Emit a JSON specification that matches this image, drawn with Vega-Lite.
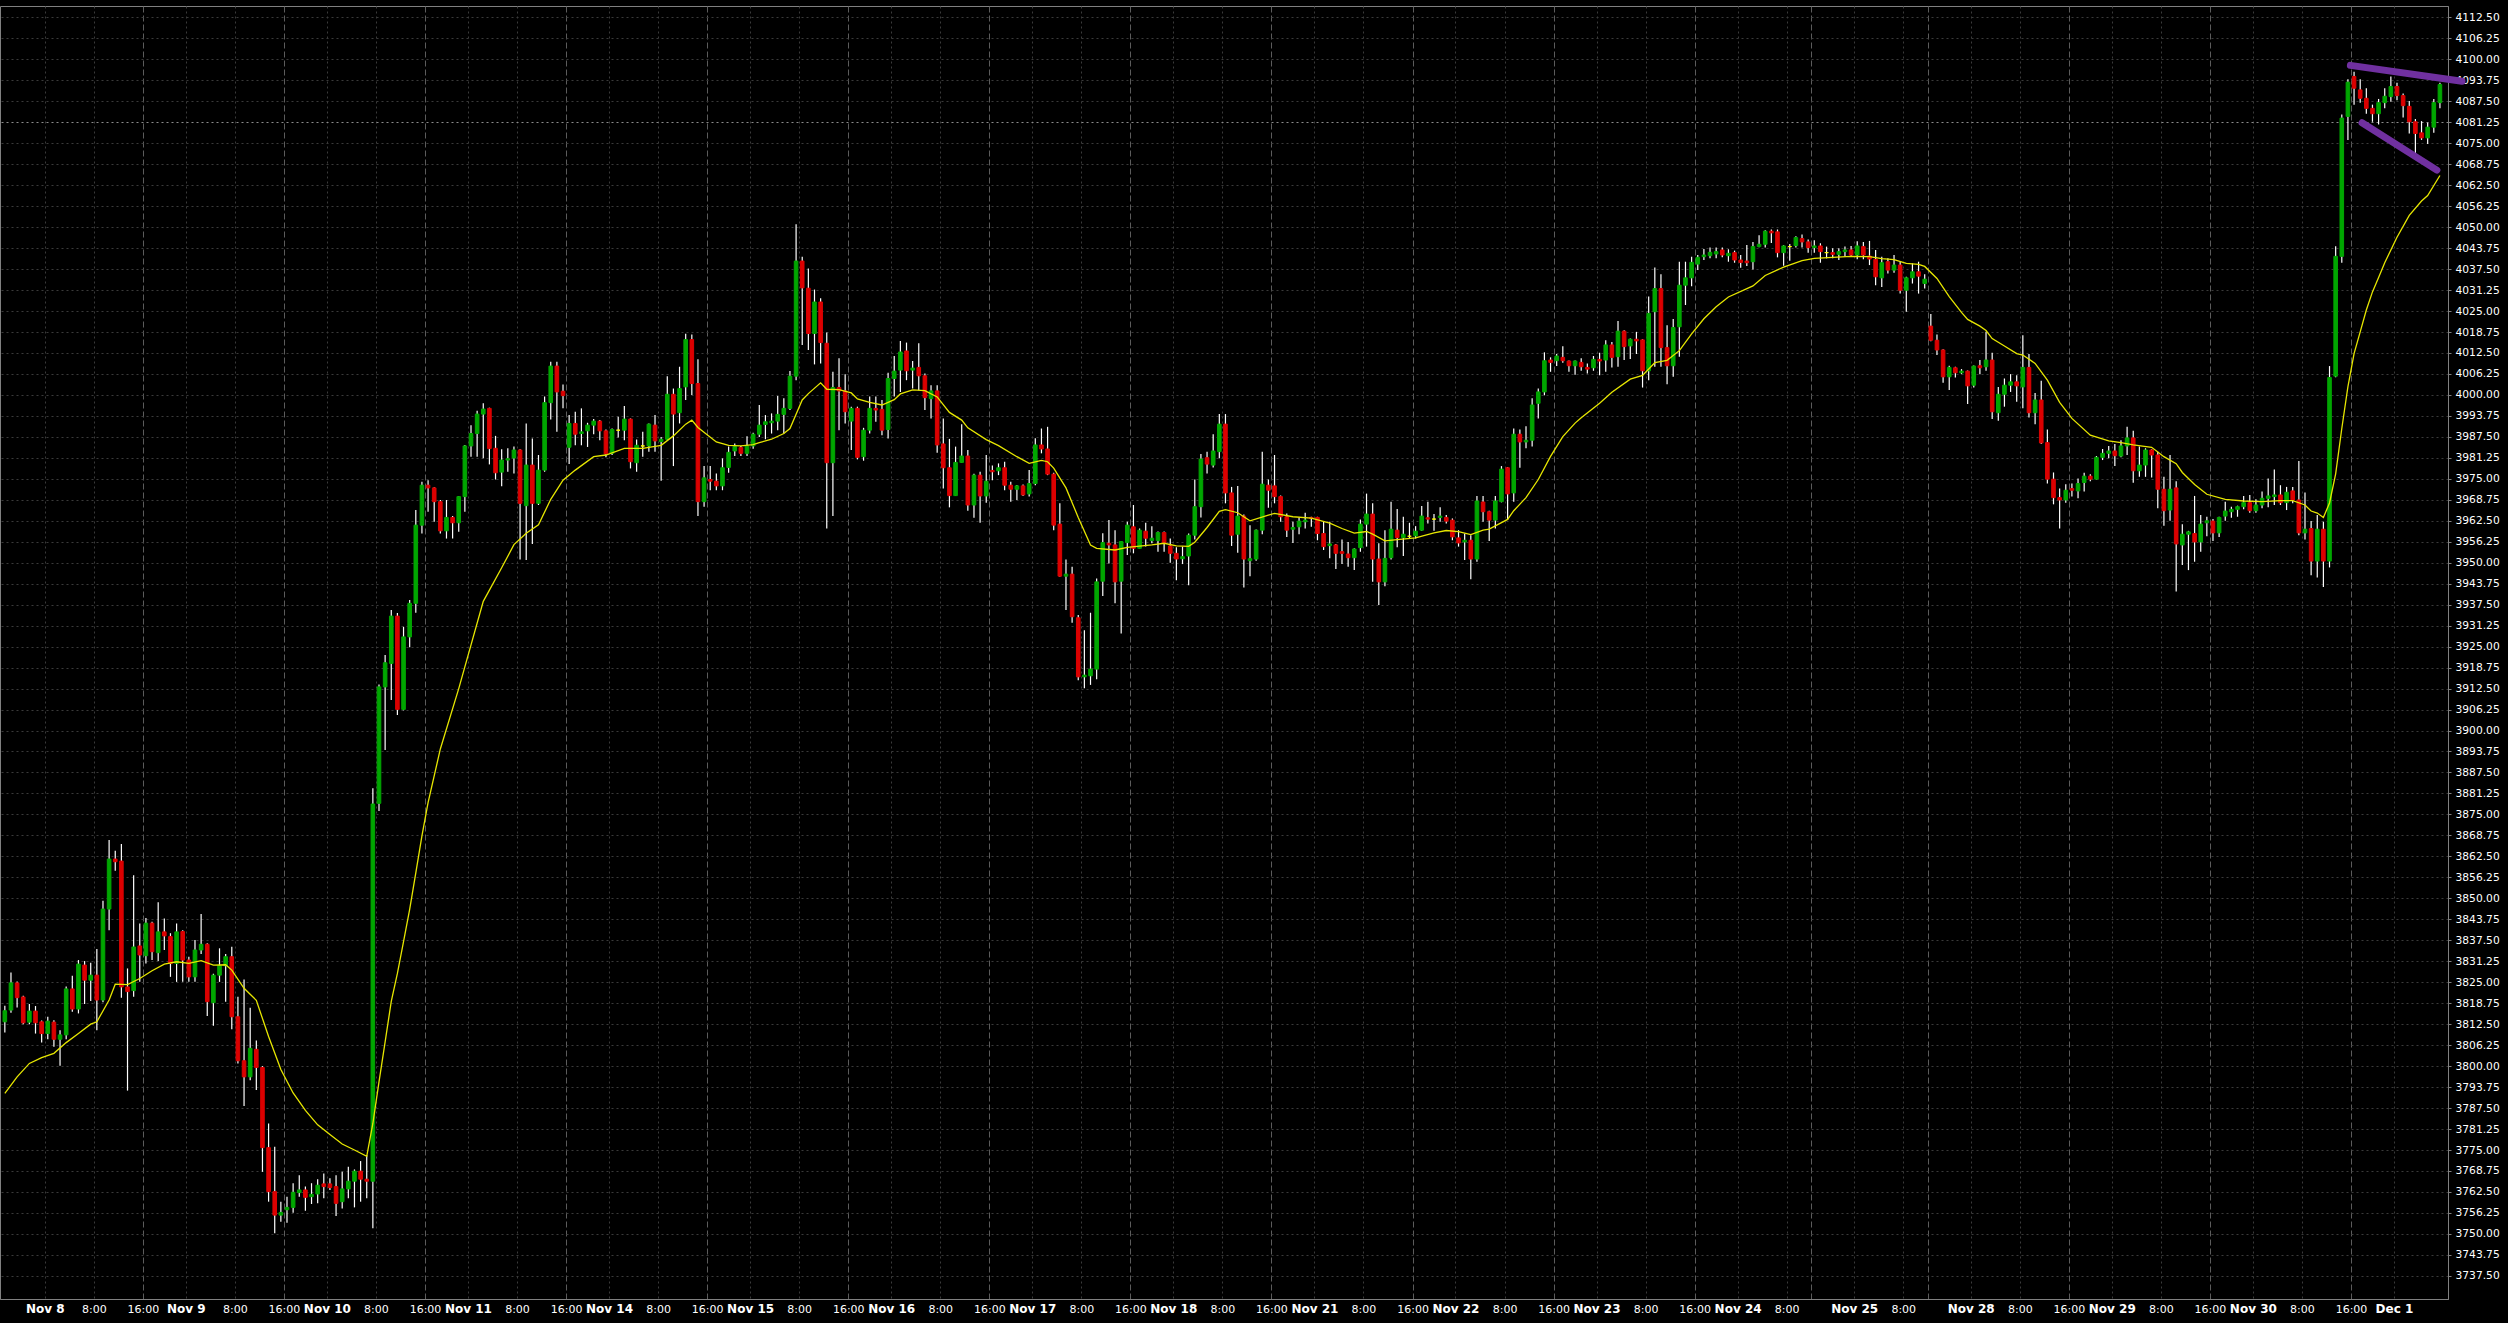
{
"$schema": "https://vega.github.io/schema/vega-lite/v6.json",
"width": 2448, "height": 1293,
"autosize": {"type": "none"},
"padding": {"left": 0, "top": 6, "right": 60, "bottom": 24},
"background": "#000000",
"config": {"view": {"stroke": "#808080", "strokeWidth": 1},
  "axisY": {
    "orient": "right", "title": null, "format": ".2f", "grid": true,
    "gridDash": [2, 3], "tickColor": "#808080", "tickSize": 3, "domainColor": "#808080",
    "labelColor": "#ffffff", "labelFont": "DejaVu Sans", "labelFontSize": 10.7,
    "labelPadding": 4, "labelOverlap": false, "labelFlush": false, "labelBound": false
  }
},
"data": {"values": [
{"i":0,"o":3813.2,"h":3818.0,"l":3810.0,"c":3816.5,"ma":3791.9},
{"i":1,"o":3816.7,"h":3827.9,"l":3815.9,"c":3824.8},
{"i":2,"o":3824.8,"h":3825.2,"l":3817.5,"c":3820.4,"ma":3796.8},
{"i":3,"o":3820.6,"h":3821.0,"l":3812.5,"c":3812.9},
{"i":4,"o":3813.1,"h":3818.5,"l":3812.5,"c":3816.4,"ma":3800.8},
{"i":5,"o":3816.4,"h":3817.9,"l":3809.7,"c":3812.9},
{"i":6,"o":3813.2,"h":3813.6,"l":3807.0,"c":3809.7,"ma":3802.5},
{"i":7,"o":3809.7,"h":3814.7,"l":3808.0,"c":3813.4},
{"i":8,"o":3813.1,"h":3813.7,"l":3805.8,"c":3808.0,"ma":3803.8},
{"i":9,"o":3808.0,"h":3810.7,"l":3800.1,"c":3809.3},
{"i":10,"o":3809.3,"h":3823.7,"l":3808.0,"c":3823.0,"ma":3807.0},
{"i":11,"o":3823.0,"h":3826.9,"l":3816.2,"c":3817.0},
{"i":12,"o":3817.0,"h":3831.6,"l":3815.7,"c":3830.4,"ma":3809.7},
{"i":13,"o":3830.1,"h":3831.3,"l":3818.5,"c":3825.6},
{"i":14,"o":3825.6,"h":3830.8,"l":3819.4,"c":3827.1,"ma":3812.5},
{"i":15,"o":3827.1,"h":3834.9,"l":3810.7,"c":3819.7,"ma":3813.2},
{"i":16,"o":3819.7,"h":3849.3,"l":3819.0,"c":3846.8},
{"i":17,"o":3846.8,"h":3867.4,"l":3840.5,"c":3861.7,"ma":3819.7},
{"i":18,"o":3861.7,"h":3864.2,"l":3858.2,"c":3860.9,"ma":3824.4},
{"i":19,"o":3861.1,"h":3866.2,"l":3820.4,"c":3823.6},
{"i":20,"o":3823.6,"h":3829.1,"l":3792.7,"c":3822.2,"ma":3824.3},
{"i":21,"o":3822.5,"h":3856.9,"l":3820.7,"c":3835.5},
{"i":22,"o":3835.8,"h":3842.5,"l":3825.1,"c":3833.1,"ma":3826.1},
{"i":23,"o":3832.9,"h":3844.1,"l":3830.6,"c":3842.6},
{"i":24,"o":3842.6,"h":3843.0,"l":3831.6,"c":3834.1,"ma":3828.4},
{"i":25,"o":3833.8,"h":3848.8,"l":3831.3,"c":3840.0},
{"i":26,"o":3840.0,"h":3844.0,"l":3834.6,"c":3838.8,"ma":3830.4},
{"i":27,"o":3838.6,"h":3839.6,"l":3826.6,"c":3830.6},
{"i":28,"o":3830.6,"h":3842.5,"l":3825.1,"c":3840.0,"ma":3831.1},
{"i":29,"o":3840.1,"h":3840.5,"l":3825.1,"c":3831.6},
{"i":30,"o":3831.6,"h":3832.6,"l":3825.1,"c":3826.6,"ma":3830.6},
{"i":31,"o":3826.6,"h":3837.6,"l":3825.1,"c":3834.6},
{"i":32,"o":3834.6,"h":3845.3,"l":3833.4,"c":3836.3,"ma":3831.4},
{"i":33,"o":3836.3,"h":3836.6,"l":3814.9,"c":3819.2},
{"i":34,"o":3818.9,"h":3827.5,"l":3812.0,"c":3827.1,"ma":3830.1},
{"i":35,"o":3827.1,"h":3835.1,"l":3825.1,"c":3829.9},
{"i":36,"o":3829.9,"h":3833.4,"l":3819.2,"c":3832.6,"ma":3830.2},
{"i":37,"o":3832.6,"h":3835.6,"l":3811.0,"c":3814.7,"ma":3828.6},
{"i":38,"o":3814.7,"h":3820.7,"l":3800.8,"c":3801.6},
{"i":39,"o":3801.6,"h":3825.8,"l":3788.1,"c":3796.8,"ma":3823.2},
{"i":40,"o":3796.8,"h":3817.4,"l":3795.8,"c":3805.3},
{"i":41,"o":3805.0,"h":3807.6,"l":3792.9,"c":3799.6,"ma":3819.6},
{"i":42,"o":3799.6,"h":3800.0,"l":3768.5,"c":3775.7},
{"i":43,"o":3775.7,"h":3782.9,"l":3759.6,"c":3762.6,"ma":3808.8},
{"i":44,"o":3762.6,"h":3776.0,"l":3750.2,"c":3755.6},
{"i":45,"o":3755.6,"h":3759.6,"l":3753.6,"c":3756.4,"ma":3799.0},
{"i":46,"o":3757.2,"h":3761.1,"l":3753.3,"c":3757.9},
{"i":47,"o":3757.9,"h":3765.1,"l":3756.3,"c":3762.4,"ma":3792.0},
{"i":48,"o":3762.3,"h":3767.5,"l":3761.1,"c":3763.1},
{"i":49,"o":3763.1,"h":3764.1,"l":3756.9,"c":3760.9,"ma":3786.8},
{"i":50,"o":3761.1,"h":3765.1,"l":3758.9,"c":3761.8},
{"i":51,"o":3761.9,"h":3766.3,"l":3759.1,"c":3764.5,"ma":3782.5},
{"i":52,"o":3764.9,"h":3768.0,"l":3760.6,"c":3764.1},
{"i":53,"o":3764.9,"h":3766.6,"l":3763.1,"c":3763.8,"ma":3779.6},
{"i":54,"o":3764.1,"h":3767.5,"l":3755.3,"c":3759.1},
{"i":55,"o":3759.6,"h":3768.5,"l":3757.6,"c":3763.4,"ma":3776.8},
{"i":56,"o":3763.4,"h":3770.0,"l":3760.6,"c":3765.7},
{"i":57,"o":3765.7,"h":3769.2,"l":3757.9,"c":3768.7,"ma":3775.0},
{"i":58,"o":3768.7,"h":3771.7,"l":3759.6,"c":3766.3},
{"i":59,"o":3766.3,"h":3773.5,"l":3760.6,"c":3765.7,"ma":3773.1},
{"i":60,"o":3765.7,"h":3882.8,"l":3751.7,"c":3878.1,"ma":3782.9},
{"i":61,"o":3878.3,"h":3913.7,"l":3876.0,"c":3913.0,"ma":3795.3},
{"i":62,"o":3913.0,"h":3922.5,"l":3894.2,"c":3920.2,"ma":3807.2},
{"i":63,"o":3920.0,"h":3935.9,"l":3909.1,"c":3934.1,"ma":3819.3},
{"i":64,"o":3934.1,"h":3935.0,"l":3904.6,"c":3906.3,"ma":3827.6},
{"i":65,"o":3906.3,"h":3930.9,"l":3906.0,"c":3927.9,"ma":3837.1},
{"i":66,"o":3927.9,"h":3938.9,"l":3924.8,"c":3937.9,"ma":3846.7},
{"i":67,"o":3937.9,"h":3965.7,"l":3935.1,"c":3961.2,"ma":3857.6},
{"i":68,"o":3961.2,"h":3974.1,"l":3958.7,"c":3973.1,"ma":3868.6},
{"i":69,"o":3973.1,"h":3974.6,"l":3965.2,"c":3972.3,"ma":3878.5},
{"i":70,"o":3972.3,"h":3972.5,"l":3962.2,"c":3968.2},
{"i":71,"o":3968.2,"h":3968.7,"l":3958.7,"c":3959.5,"ma":3894.5},
{"i":72,"o":3959.5,"h":3968.7,"l":3957.2,"c":3963.5},
{"i":73,"o":3963.5,"h":3963.9,"l":3957.2,"c":3961.9},
{"i":74,"o":3961.9,"h":3969.9,"l":3959.2,"c":3969.7,"ma":3912.5},
{"i":75,"o":3969.7,"h":3985.1,"l":3965.2,"c":3984.8},
{"i":76,"o":3984.8,"h":3991.0,"l":3981.6,"c":3988.5},
{"i":77,"o":3988.5,"h":3995.3,"l":3981.6,"c":3994.3},
{"i":78,"o":3994.3,"h":3997.5,"l":3981.1,"c":3995.8,"ma":3938.5},
{"i":79,"o":3996.0,"h":3996.2,"l":3979.3,"c":3984.0},
{"i":80,"o":3984.1,"h":3987.8,"l":3974.8,"c":3976.8},
{"i":81,"o":3977.0,"h":3983.8,"l":3972.8,"c":3980.6,"ma":3948.5},
{"i":82,"o":3980.6,"h":3984.1,"l":3977.1,"c":3981.0},
{"i":83,"o":3981.2,"h":3984.6,"l":3976.6,"c":3983.6,"ma":3955.4},
{"i":84,"o":3983.6,"h":3983.8,"l":3951.0,"c":3967.7},
{"i":85,"o":3967.0,"h":3991.5,"l":3950.8,"c":3979.1,"ma":3958.8},
{"i":86,"o":3979.1,"h":3987.0,"l":3955.6,"c":3967.7},
{"i":87,"o":3967.7,"h":3982.1,"l":3967.2,"c":3977.6,"ma":3961.3},
{"i":88,"o":3977.6,"h":3999.5,"l":3977.1,"c":3997.7},
{"i":89,"o":3997.7,"h":4009.9,"l":3992.7,"c":4008.6,"ma":3968.9},
{"i":90,"o":4008.6,"h":4009.9,"l":3989.0,"c":4000.9},
{"i":91,"o":4001.1,"h":4003.1,"l":3996.0,"c":3999.8,"ma":3974.6},
{"i":92,"o":3984.4,"h":3994.0,"l":3979.4,"c":3991.5},
{"i":93,"o":3991.5,"h":3995.0,"l":3985.0,"c":3988.3,"ma":3977.6},
{"i":94,"o":3988.5,"h":3996.0,"l":3985.0,"c":3989.0},
{"i":95,"o":3989.3,"h":3991.7,"l":3984.5,"c":3991.0},
{"i":96,"o":3991.0,"h":3992.8,"l":3988.3,"c":3992.2,"ma":3981.6},
{"i":97,"o":3992.2,"h":3992.5,"l":3986.5,"c":3989.3},
{"i":98,"o":3989.3,"h":3989.7,"l":3981.4,"c":3982.4,"ma":3982.1},
{"i":99,"o":3982.6,"h":3990.0,"l":3982.1,"c":3989.7},
{"i":100,"o":3989.5,"h":3993.5,"l":3987.3,"c":3989.5},
{"i":101,"o":3989.5,"h":3996.7,"l":3986.5,"c":3992.8,"ma":3984.1},
{"i":102,"o":3992.8,"h":3993.0,"l":3978.1,"c":3980.1},
{"i":103,"o":3979.8,"h":3986.7,"l":3977.1,"c":3985.0},
{"i":104,"o":3984.8,"h":3989.0,"l":3981.6,"c":3984.8,"ma":3984.1},
{"i":105,"o":3984.8,"h":3991.5,"l":3983.1,"c":3991.3},
{"i":106,"o":3991.0,"h":3994.0,"l":3983.1,"c":3986.3},
{"i":107,"o":3986.1,"h":3987.5,"l":3974.4,"c":3986.8,"ma":3985.0},
{"i":108,"o":3986.8,"h":4005.6,"l":3986.5,"c":4000.2},
{"i":109,"o":4000.2,"h":4001.9,"l":3978.8,"c":3994.3,"ma":3987.8},
{"i":110,"o":3994.7,"h":4008.4,"l":3991.5,"c":4001.9},
{"i":111,"o":4002.4,"h":4018.2,"l":3998.5,"c":4016.5,"ma":3991.3},
{"i":112,"o":4016.5,"h":4018.0,"l":4000.0,"c":4003.4,"ma":3992.5},
{"i":113,"o":4003.4,"h":4010.6,"l":3963.9,"c":3968.2,"ma":3990.3},
{"i":114,"o":3968.2,"h":3978.8,"l":3966.7,"c":3975.3},
{"i":115,"o":3974.8,"h":3978.8,"l":3971.6,"c":3974.3},
{"i":116,"o":3974.3,"h":3976.6,"l":3971.6,"c":3972.9,"ma":3986.0},
{"i":117,"o":3972.9,"h":3981.1,"l":3971.6,"c":3978.3},
{"i":118,"o":3978.4,"h":3984.6,"l":3976.8,"c":3982.9,"ma":3985.0},
{"i":119,"o":3983.3,"h":3985.5,"l":3981.8,"c":3984.6},
{"i":120,"o":3984.3,"h":3984.8,"l":3981.8,"c":3982.6,"ma":3984.8},
{"i":121,"o":3982.6,"h":3987.7,"l":3981.8,"c":3984.8},
{"i":122,"o":3984.8,"h":3988.7,"l":3984.0,"c":3988.3,"ma":3985.2},
{"i":123,"o":3988.3,"h":3997.0,"l":3987.5,"c":3991.0,"ma":3985.8},
{"i":124,"o":3991.2,"h":3994.0,"l":3986.8,"c":3992.0},
{"i":125,"o":3991.7,"h":3994.5,"l":3988.5,"c":3992.2,"ma":3986.8},
{"i":126,"o":3992.2,"h":3999.7,"l":3989.5,"c":3994.2},
{"i":127,"o":3994.2,"h":3999.0,"l":3988.5,"c":3996.0,"ma":3988.5},
{"i":128,"o":3996.0,"h":4007.1,"l":3995.5,"c":4005.6,"ma":3990.0},
{"i":129,"o":4005.6,"h":4050.9,"l":4004.4,"c":4039.9},
{"i":130,"o":4039.9,"h":4041.2,"l":4014.9,"c":4031.9,"ma":3998.5},
{"i":131,"o":4031.8,"h":4037.7,"l":4013.4,"c":4018.3,"ma":4000.4},
{"i":132,"o":4018.3,"h":4031.4,"l":4009.1,"c":4027.7},
{"i":133,"o":4027.7,"h":4028.8,"l":4009.4,"c":4015.6,"ma":4003.6},
{"i":134,"o":4015.4,"h":4018.6,"l":3960.2,"c":3979.8,"ma":4001.7},
{"i":135,"o":3979.8,"h":4006.9,"l":3963.9,"c":4002.2},
{"i":136,"o":4002.2,"h":4010.9,"l":3989.5,"c":4001.2,"ma":4001.6},
{"i":137,"o":4001.2,"h":4006.2,"l":3991.5,"c":3995.0},
{"i":138,"o":3992.2,"h":3996.5,"l":3983.6,"c":3996.0,"ma":4000.6},
{"i":139,"o":3996.0,"h":3996.5,"l":3980.8,"c":3981.4,"ma":3998.8},
{"i":140,"o":3981.6,"h":3990.2,"l":3980.4,"c":3989.5},
{"i":141,"o":3989.5,"h":3999.5,"l":3988.5,"c":3996.0,"ma":3997.8},
{"i":142,"o":3996.0,"h":3999.5,"l":3992.0,"c":3995.5},
{"i":143,"o":3995.7,"h":3998.5,"l":3988.0,"c":3989.5,"ma":3997.0},
{"i":144,"o":3989.7,"h":4006.6,"l":3987.0,"c":4004.9},
{"i":145,"o":4004.9,"h":4011.6,"l":3999.5,"c":4007.1,"ma":3998.6},
{"i":146,"o":4007.4,"h":4016.1,"l":4000.9,"c":4012.8,"ma":4000.3},
{"i":147,"o":4013.1,"h":4015.6,"l":4004.4,"c":4007.2},
{"i":148,"o":4007.4,"h":4010.1,"l":4001.9,"c":4008.0,"ma":4001.5},
{"i":149,"o":4008.2,"h":4015.4,"l":4001.4,"c":4005.7},
{"i":150,"o":4005.7,"h":4006.4,"l":3995.5,"c":3999.2,"ma":4001.3},
{"i":151,"o":3998.9,"h":4002.9,"l":3993.0,"c":4001.2},
{"i":152,"o":4001.2,"h":4002.9,"l":3982.8,"c":3985.1,"ma":3999.4},
{"i":153,"o":3985.4,"h":3993.0,"l":3972.1,"c":3978.3},
{"i":154,"o":3978.3,"h":3986.9,"l":3966.5,"c":3970.0,"ma":3994.8},
{"i":155,"o":3970.0,"h":3984.6,"l":3969.9,"c":3979.9},
{"i":156,"o":3979.9,"h":3991.3,"l":3979.8,"c":3981.8,"ma":3992.5},
{"i":157,"o":3981.8,"h":3983.6,"l":3965.5,"c":3967.2,"ma":3990.2},
{"i":158,"o":3967.2,"h":3976.5,"l":3963.4,"c":3976.1},
{"i":159,"o":3976.1,"h":3977.1,"l":3961.9,"c":3969.9},
{"i":160,"o":3969.9,"h":3982.1,"l":3967.9,"c":3974.3,"ma":3986.7},
{"i":161,"o":3977.5,"h":3979.0,"l":3974.6,"c":3977.1},
{"i":162,"o":3977.4,"h":3979.6,"l":3976.1,"c":3978.3,"ma":3984.9},
{"i":163,"o":3978.3,"h":3980.1,"l":3971.6,"c":3973.1},
{"i":164,"o":3973.1,"h":3974.1,"l":3968.2,"c":3971.9},
{"i":165,"o":3971.9,"h":3973.2,"l":3968.7,"c":3972.9,"ma":3981.6},
{"i":166,"o":3972.9,"h":3973.3,"l":3969.9,"c":3970.2},
{"i":167,"o":3970.5,"h":3977.6,"l":3969.7,"c":3973.6,"ma":3979.6},
{"i":168,"o":3973.6,"h":3987.1,"l":3973.1,"c":3985.1},
{"i":169,"o":3985.1,"h":3990.0,"l":3982.6,"c":3983.9,"ma":3980.5},
{"i":170,"o":3983.9,"h":3990.5,"l":3976.1,"c":3976.4,"ma":3980.1},
{"i":171,"o":3976.4,"h":3976.8,"l":3959.7,"c":3961.2,"ma":3978.2},
{"i":172,"o":3961.5,"h":3967.7,"l":3945.8,"c":3946.0},
{"i":173,"o":3946.0,"h":3951.0,"l":3935.9,"c":3946.6,"ma":3972.3},
{"i":174,"o":3946.6,"h":3948.8,"l":3932.1,"c":3933.9},
{"i":175,"o":3933.6,"h":3934.4,"l":3915.0,"c":3916.0,"ma":3963.5},
{"i":176,"o":3916.0,"h":3929.9,"l":3912.6,"c":3916.5},
{"i":177,"o":3916.3,"h":3935.1,"l":3913.6,"c":3918.3,"ma":3955.3},
{"i":178,"o":3918.3,"h":3945.3,"l":3915.3,"c":3944.3,"ma":3954.3},
{"i":179,"o":3944.5,"h":3958.8,"l":3940.1,"c":3956.0},
{"i":180,"o":3955.8,"h":3962.7,"l":3949.8,"c":3955.3},
{"i":181,"o":3955.3,"h":3959.7,"l":3937.9,"c":3944.3,"ma":3953.8},
{"i":182,"o":3944.5,"h":3956.5,"l":3928.9,"c":3956.3},
{"i":183,"o":3956.0,"h":3962.2,"l":3952.3,"c":3961.2,"ma":3954.6},
{"i":184,"o":3960.7,"h":3967.2,"l":3952.8,"c":3954.3},
{"i":185,"o":3954.3,"h":3960.2,"l":3954.3,"c":3959.7},
{"i":186,"o":3959.4,"h":3961.9,"l":3954.8,"c":3957.3},
{"i":187,"o":3956.6,"h":3960.9,"l":3955.8,"c":3957.3,"ma":3955.3},
{"i":188,"o":3956.6,"h":3959.3,"l":3953.3,"c":3959.0},
{"i":189,"o":3959.0,"h":3959.3,"l":3953.3,"c":3955.8,"ma":3955.8},
{"i":190,"o":3955.0,"h":3957.2,"l":3950.0,"c":3952.8},
{"i":191,"o":3952.8,"h":3954.6,"l":3944.8,"c":3951.1,"ma":3955.0},
{"i":192,"o":3951.2,"h":3954.8,"l":3949.6,"c":3951.8},
{"i":193,"o":3952.0,"h":3958.7,"l":3943.3,"c":3958.2,"ma":3954.9},
{"i":194,"o":3958.2,"h":3974.8,"l":3956.9,"c":3966.7,"ma":3956.1},
{"i":195,"o":3966.7,"h":3982.4,"l":3963.5,"c":3980.9},
{"i":196,"o":3981.3,"h":3983.1,"l":3976.6,"c":3979.4,"ma":3960.5},
{"i":197,"o":3979.1,"h":3988.3,"l":3978.4,"c":3983.3},
{"i":198,"o":3983.1,"h":3994.3,"l":3981.1,"c":3991.3,"ma":3965.3},
{"i":199,"o":3991.3,"h":3994.3,"l":3967.7,"c":3970.8,"ma":3965.8},
{"i":200,"o":3970.8,"h":3972.6,"l":3955.0,"c":3958.2},
{"i":201,"o":3958.5,"h":3972.9,"l":3953.0,"c":3963.9,"ma":3964.9},
{"i":202,"o":3963.9,"h":3964.4,"l":3942.6,"c":3951.1},
{"i":203,"o":3950.6,"h":3961.2,"l":3946.0,"c":3951.2,"ma":3962.5},
{"i":204,"o":3951.1,"h":3959.9,"l":3950.6,"c":3959.7},
{"i":205,"o":3959.7,"h":3983.1,"l":3958.5,"c":3973.4},
{"i":206,"o":3973.1,"h":3974.8,"l":3966.4,"c":3971.6,"ma":3964.2},
{"i":207,"o":3972.9,"h":3982.1,"l":3967.7,"c":3969.7,"ma":3964.7},
{"i":208,"o":3969.7,"h":3970.0,"l":3962.2,"c":3963.7},
{"i":209,"o":3963.7,"h":3964.7,"l":3957.7,"c":3959.7},
{"i":210,"o":3960.0,"h":3962.2,"l":3955.9,"c":3960.5,"ma":3963.7},
{"i":211,"o":3960.7,"h":3963.5,"l":3958.5,"c":3962.4},
{"i":212,"o":3962.2,"h":3964.9,"l":3960.2,"c":3962.7},
{"i":213,"o":3963.5,"h":3963.7,"l":3960.7,"c":3963.2,"ma":3963.3},
{"i":214,"o":3963.5,"h":3963.7,"l":3956.7,"c":3958.7},
{"i":215,"o":3958.7,"h":3962.2,"l":3953.8,"c":3954.8},
{"i":216,"o":3955.1,"h":3962.2,"l":3951.3,"c":3955.6,"ma":3961.8},
{"i":217,"o":3955.3,"h":3955.6,"l":3948.1,"c":3952.8},
{"i":218,"o":3953.3,"h":3956.9,"l":3949.6,"c":3952.8,"ma":3960.2},
{"i":219,"o":3952.6,"h":3956.2,"l":3948.8,"c":3951.5},
{"i":220,"o":3951.5,"h":3954.3,"l":3947.8,"c":3954.1,"ma":3958.8},
{"i":221,"o":3954.5,"h":3962.9,"l":3953.3,"c":3961.5},
{"i":222,"o":3961.5,"h":3970.6,"l":3954.8,"c":3964.5,"ma":3959.3},
{"i":223,"o":3964.5,"h":3967.7,"l":3944.3,"c":3951.1,"ma":3958.5},
{"i":224,"o":3951.1,"h":3955.8,"l":3937.4,"c":3944.3},
{"i":225,"o":3944.3,"h":3959.7,"l":3943.0,"c":3951.3,"ma":3956.5},
{"i":226,"o":3951.5,"h":3968.2,"l":3951.0,"c":3960.0},
{"i":227,"o":3959.7,"h":3966.0,"l":3954.6,"c":3957.5,"ma":3956.9},
{"i":228,"o":3957.5,"h":3963.7,"l":3952.0,"c":3958.5},
{"i":229,"o":3957.9,"h":3961.9,"l":3957.2,"c":3957.9},
{"i":230,"o":3958.0,"h":3960.9,"l":3957.2,"c":3959.4,"ma":3957.4},
{"i":231,"o":3959.7,"h":3966.9,"l":3959.5,"c":3963.9},
{"i":232,"o":3963.4,"h":3968.2,"l":3961.7,"c":3963.0},
{"i":233,"o":3963.0,"h":3964.5,"l":3959.5,"c":3963.0,"ma":3958.9},
{"i":234,"o":3963.5,"h":3966.5,"l":3962.2,"c":3963.9},
{"i":235,"o":3963.5,"h":3964.2,"l":3961.7,"c":3962.4,"ma":3959.6},
{"i":236,"o":3962.7,"h":3963.2,"l":3956.7,"c":3957.7},
{"i":237,"o":3957.4,"h":3959.7,"l":3954.8,"c":3955.9,"ma":3959.3},
{"i":238,"o":3956.2,"h":3958.7,"l":3950.8,"c":3956.7},
{"i":239,"o":3956.7,"h":3958.2,"l":3945.1,"c":3951.1,"ma":3958.4},
{"i":240,"o":3951.1,"h":3969.9,"l":3950.3,"c":3968.4},
{"i":241,"o":3968.1,"h":3969.9,"l":3962.2,"c":3965.2,"ma":3959.7},
{"i":242,"o":3965.2,"h":3965.5,"l":3956.5,"c":3962.7,"ma":3960.0},
{"i":243,"o":3962.7,"h":3969.9,"l":3960.2,"c":3968.4},
{"i":244,"o":3968.2,"h":3978.8,"l":3968.0,"c":3977.9},
{"i":245,"o":3978.3,"h":3978.5,"l":3962.7,"c":3970.5,"ma":3962.9},
{"i":246,"o":3970.8,"h":3990.0,"l":3968.2,"c":3988.3,"ma":3965.5},
{"i":247,"o":3988.3,"h":3989.7,"l":3978.3,"c":3986.0},
{"i":248,"o":3986.0,"h":3990.7,"l":3984.1,"c":3986.5,"ma":3969.4},
{"i":249,"o":3986.5,"h":3999.0,"l":3984.6,"c":3997.0},
{"i":250,"o":3997.5,"h":4001.9,"l":3993.0,"c":4000.9,"ma":3974.8},
{"i":251,"o":4000.9,"h":4012.7,"l":3999.9,"c":4010.2},
{"i":252,"o":4010.4,"h":4011.2,"l":4006.9,"c":4009.7,"ma":3981.7},
{"i":253,"o":4010.2,"h":4012.2,"l":4008.6,"c":4011.6},
{"i":254,"o":4011.2,"h":4014.5,"l":4009.6,"c":4010.2,"ma":3987.6},
{"i":255,"o":4010.1,"h":4010.3,"l":4006.9,"c":4008.7,"ma":3989.6},
{"i":256,"o":4008.7,"h":4010.3,"l":4006.0,"c":4010.1,"ma":3991.6},
{"i":257,"o":4009.7,"h":4010.9,"l":4007.2,"c":4008.4,"ma":3993.2},
{"i":258,"o":4008.2,"h":4009.4,"l":4006.4,"c":4007.7},
{"i":259,"o":4008.1,"h":4011.6,"l":4007.2,"c":4010.6},
{"i":260,"o":4010.6,"h":4012.6,"l":4005.9,"c":4010.1,"ma":3997.5},
{"i":261,"o":4010.4,"h":4016.3,"l":4006.9,"c":4014.9},
{"i":262,"o":4014.9,"h":4015.8,"l":4008.2,"c":4011.2,"ma":4000.8},
{"i":263,"o":4011.4,"h":4022.0,"l":4008.4,"c":4019.0},
{"i":264,"o":4019.0,"h":4019.3,"l":4010.4,"c":4014.4},
{"i":265,"o":4014.6,"h":4016.8,"l":4010.7,"c":4016.6,"ma":4004.7},
{"i":266,"o":4016.6,"h":4018.8,"l":4012.2,"c":4016.1},
{"i":267,"o":4016.4,"h":4016.6,"l":4002.2,"c":4007.2,"ma":4005.8},
{"i":268,"o":4007.2,"h":4029.3,"l":4004.4,"c":4024.3},
{"i":269,"o":4024.8,"h":4038.0,"l":4008.4,"c":4031.7,"ma":4009.6},
{"i":270,"o":4031.7,"h":4036.0,"l":4008.4,"c":4014.1},
{"i":271,"o":4014.1,"h":4020.8,"l":4003.2,"c":4008.7,"ma":4010.3},
{"i":272,"o":4008.7,"h":4022.6,"l":4005.4,"c":4020.1},
{"i":273,"o":4020.3,"h":4039.7,"l":4011.4,"c":4032.7,"ma":4013.2},
{"i":274,"o":4032.7,"h":4039.7,"l":4026.8,"c":4034.9},
{"i":275,"o":4034.9,"h":4041.2,"l":4032.4,"c":4039.5,"ma":4018.2},
{"i":276,"o":4039.0,"h":4041.7,"l":4037.2,"c":4041.0},
{"i":277,"o":4041.2,"h":4043.5,"l":4040.2,"c":4041.7,"ma":4022.7},
{"i":278,"o":4041.5,"h":4043.9,"l":4040.7,"c":4042.5},
{"i":279,"o":4042.0,"h":4043.9,"l":4040.7,"c":4042.7,"ma":4026.3},
{"i":280,"o":4043.2,"h":4043.9,"l":4041.0,"c":4041.7},
{"i":281,"o":4041.5,"h":4043.4,"l":4039.7,"c":4042.2,"ma":4029.2},
{"i":282,"o":4042.4,"h":4043.0,"l":4039.4,"c":4040.2},
{"i":283,"o":4040.2,"h":4041.7,"l":4037.9,"c":4039.5},
{"i":284,"o":4039.9,"h":4044.7,"l":4038.4,"c":4039.4},
{"i":285,"o":4039.7,"h":4045.6,"l":4037.4,"c":4044.2,"ma":4032.5},
{"i":286,"o":4044.2,"h":4047.6,"l":4044.0,"c":4044.9},
{"i":287,"o":4044.9,"h":4049.1,"l":4043.9,"c":4048.8,"ma":4035.6},
{"i":288,"o":4048.8,"h":4049.3,"l":4045.3,"c":4048.3},
{"i":289,"o":4048.6,"h":4049.3,"l":4041.0,"c":4042.4},
{"i":290,"o":4042.4,"h":4044.6,"l":4038.5,"c":4044.4,"ma":4038.1},
{"i":291,"o":4044.2,"h":4045.0,"l":4040.0,"c":4044.2},
{"i":292,"o":4044.5,"h":4047.3,"l":4043.9,"c":4046.9},
{"i":293,"o":4046.6,"h":4047.8,"l":4043.9,"c":4045.6,"ma":4040.0},
{"i":294,"o":4045.6,"h":4046.3,"l":4042.4,"c":4043.9},
{"i":295,"o":4043.9,"h":4046.1,"l":4042.4,"c":4044.4,"ma":4040.7},
{"i":296,"o":4044.4,"h":4045.2,"l":4039.4,"c":4042.7},
{"i":297,"o":4042.4,"h":4044.2,"l":4040.7,"c":4042.4},
{"i":298,"o":4042.4,"h":4043.7,"l":4040.7,"c":4041.9,"ma":4041.0},
{"i":299,"o":4041.9,"h":4043.7,"l":4040.2,"c":4042.7},
{"i":300,"o":4042.7,"h":4044.2,"l":4041.2,"c":4043.2},
{"i":301,"o":4043.2,"h":4044.4,"l":4041.4,"c":4041.7,"ma":4041.3},
{"i":302,"o":4041.7,"h":4045.8,"l":4040.4,"c":4044.4},
{"i":303,"o":4044.2,"h":4045.6,"l":4040.4,"c":4041.7},
{"i":304,"o":4041.4,"h":4045.9,"l":4038.7,"c":4040.5,"ma":4041.2},
{"i":305,"o":4040.4,"h":4043.2,"l":4032.7,"c":4035.2},
{"i":306,"o":4034.9,"h":4041.2,"l":4032.2,"c":4039.4,"ma":4040.6},
{"i":307,"o":4039.7,"h":4040.7,"l":4036.2,"c":4037.2},
{"i":308,"o":4037.2,"h":4041.7,"l":4036.4,"c":4038.7,"ma":4040.3},
{"i":309,"o":4038.7,"h":4039.7,"l":4030.2,"c":4031.2},
{"i":310,"o":4031.2,"h":4035.2,"l":4024.8,"c":4034.9,"ma":4039.2},
{"i":311,"o":4034.9,"h":4039.2,"l":4033.2,"c":4036.7},
{"i":312,"o":4036.7,"h":4039.7,"l":4030.2,"c":4035.4,"ma":4038.9},
{"i":313,"o":4033.2,"h":4036.0,"l":4031.7,"c":4034.5,"ma":4038.3},
{"i":314,"o":4020.5,"h":4024.1,"l":4016.0,"c":4016.3},
{"i":315,"o":4016.3,"h":4018.0,"l":4011.9,"c":4013.4,"ma":4034.7},
{"i":316,"o":4013.4,"h":4013.6,"l":4003.6,"c":4005.4},
{"i":317,"o":4005.4,"h":4008.7,"l":4001.5,"c":4008.2,"ma":4029.3},
{"i":318,"o":4008.1,"h":4008.4,"l":4005.2,"c":4006.6},
{"i":319,"o":4006.6,"h":4007.7,"l":4006.2,"c":4007.1,"ma":4024.6},
{"i":320,"o":4007.1,"h":4007.3,"l":3997.3,"c":4002.7,"ma":4022.5},
{"i":321,"o":4002.9,"h":4008.8,"l":4002.2,"c":4008.6},
{"i":322,"o":4008.7,"h":4010.4,"l":4006.2,"c":4008.1,"ma":4020.5},
{"i":323,"o":4008.4,"h":4018.8,"l":4007.2,"c":4010.4,"ma":4019.2},
{"i":324,"o":4010.4,"h":4012.6,"l":3992.8,"c":3995.0,"ma":4016.8},
{"i":325,"o":3994.7,"h":4002.4,"l":3992.3,"c":4000.2},
{"i":326,"o":4000.2,"h":4004.9,"l":3996.5,"c":4002.9,"ma":4014.6},
{"i":327,"o":4002.9,"h":4006.2,"l":4000.9,"c":4003.9},
{"i":328,"o":4003.9,"h":4005.9,"l":3998.0,"c":4002.7,"ma":4012.3},
{"i":329,"o":4002.4,"h":4017.8,"l":3996.0,"c":4008.2,"ma":4011.9},
{"i":330,"o":4008.2,"h":4012.2,"l":3993.3,"c":3994.7},
{"i":331,"o":3994.7,"h":4000.6,"l":3991.3,"c":3998.5,"ma":4009.4},
{"i":332,"o":3998.5,"h":4004.2,"l":3985.4,"c":3985.7},
{"i":333,"o":3985.8,"h":3989.7,"l":3973.6,"c":3974.9,"ma":4004.4},
{"i":334,"o":3974.9,"h":3976.9,"l":3967.4,"c":3969.4},
{"i":335,"o":3969.4,"h":3972.1,"l":3960.2,"c":3968.7,"ma":3997.8},
{"i":336,"o":3968.7,"h":3973.4,"l":3967.9,"c":3971.6},
{"i":337,"o":3972.1,"h":3973.6,"l":3969.7,"c":3971.6,"ma":3993.0},
{"i":338,"o":3971.4,"h":3975.1,"l":3969.2,"c":3973.6},
{"i":339,"o":3973.9,"h":3976.8,"l":3971.2,"c":3975.8},
{"i":340,"o":3975.8,"h":3976.4,"l":3974.3,"c":3974.9,"ma":3988.0},
{"i":341,"o":3974.9,"h":3981.8,"l":3974.8,"c":3981.4},
{"i":342,"o":3981.4,"h":3983.9,"l":3980.6,"c":3982.6},
{"i":343,"o":3982.6,"h":3984.8,"l":3981.1,"c":3983.3,"ma":3986.3},
{"i":344,"o":3983.3,"h":3985.4,"l":3978.8,"c":3981.9},
{"i":345,"o":3981.8,"h":3986.5,"l":3981.4,"c":3984.8,"ma":3985.8},
{"i":346,"o":3984.8,"h":3990.5,"l":3982.1,"c":3987.2},
{"i":347,"o":3987.2,"h":3989.3,"l":3973.8,"c":3977.4,"ma":3985.1},
{"i":348,"o":3977.4,"h":3984.6,"l":3975.6,"c":3979.1},
{"i":349,"o":3979.1,"h":3984.1,"l":3975.6,"c":3983.6},
{"i":350,"o":3983.6,"h":3983.8,"l":3975.4,"c":3982.1,"ma":3984.4},
{"i":351,"o":3982.1,"h":3983.1,"l":3966.2,"c":3971.9},
{"i":352,"o":3971.9,"h":3975.6,"l":3961.0,"c":3965.5,"ma":3981.6},
{"i":353,"o":3965.7,"h":3982.1,"l":3962.5,"c":3971.9},
{"i":354,"o":3972.3,"h":3974.3,"l":3941.4,"c":3955.6,"ma":3979.5},
{"i":355,"o":3955.3,"h":3961.5,"l":3949.3,"c":3958.5,"ma":3976.9},
{"i":356,"o":3958.5,"h":3959.5,"l":3947.8,"c":3959.2},
{"i":357,"o":3958.7,"h":3969.9,"l":3950.3,"c":3956.2,"ma":3973.3},
{"i":358,"o":3956.2,"h":3964.2,"l":3953.3,"c":3961.5},
{"i":359,"o":3961.9,"h":3963.7,"l":3957.9,"c":3962.5,"ma":3970.4},
{"i":360,"o":3962.4,"h":3963.0,"l":3956.5,"c":3958.9},
{"i":361,"o":3958.9,"h":3963.7,"l":3957.7,"c":3963.5},
{"i":362,"o":3963.9,"h":3968.2,"l":3962.5,"c":3965.4,"ma":3968.9},
{"i":363,"o":3965.2,"h":3966.7,"l":3963.4,"c":3965.9},
{"i":364,"o":3965.9,"h":3967.0,"l":3963.7,"c":3966.7},
{"i":365,"o":3966.7,"h":3969.9,"l":3965.9,"c":3967.9,"ma":3968.4},
{"i":366,"o":3967.9,"h":3970.2,"l":3964.9,"c":3965.5},
{"i":367,"o":3965.5,"h":3968.9,"l":3964.9,"c":3967.2},
{"i":368,"o":3967.2,"h":3971.2,"l":3966.2,"c":3969.2,"ma":3968.2},
{"i":369,"o":3969.2,"h":3975.1,"l":3966.5,"c":3969.9},
{"i":370,"o":3969.7,"h":3977.8,"l":3967.2,"c":3970.2},
{"i":371,"o":3970.2,"h":3973.1,"l":3967.2,"c":3967.9,"ma":3968.5},
{"i":372,"o":3967.9,"h":3972.6,"l":3965.7,"c":3971.0},
{"i":373,"o":3971.4,"h":3972.6,"l":3967.7,"c":3968.7,"ma":3968.5},
{"i":374,"o":3968.7,"h":3980.3,"l":3958.2,"c":3958.9},
{"i":375,"o":3958.9,"h":3970.9,"l":3956.9,"c":3960.0,"ma":3967.2},
{"i":376,"o":3960.2,"h":3962.4,"l":3946.3,"c":3950.5,"ma":3965.4},
{"i":377,"o":3950.5,"h":3964.2,"l":3945.6,"c":3960.0,"ma":3964.8},
{"i":378,"o":3960.0,"h":3962.2,"l":3942.8,"c":3950.5,"ma":3963.5},
{"i":379,"o":3950.5,"h":4008.6,"l":3948.6,"c":4005.2,"ma":3967.8},
{"i":380,"o":4005.6,"h":4044.3,"l":4005.3,"c":4041.3,"ma":3976.5},
{"i":381,"o":4041.3,"h":4083.6,"l":4039.4,"c":4082.5,"ma":3990.0},
{"i":382,"o":4083.0,"h":4094.1,"l":4076.0,"c":4093.2,"ma":4002.5},
{"i":383,"o":4094.9,"h":4096.3,"l":4086.5,"c":4091.4,"ma":4012.3},
{"i":384,"o":4090.9,"h":4094.1,"l":4087.1,"c":4088.4,"ma":4018.8},
{"i":385,"o":4088.4,"h":4091.4,"l":4083.8,"c":4085.4,"ma":4025.3},
{"i":386,"o":4085.4,"h":4086.5,"l":4081.4,"c":4083.8,"ma":4030.7},
{"i":387,"o":4083.8,"h":4088.2,"l":4080.6,"c":4087.1,"ma":4035.0},
{"i":388,"o":4087.1,"h":4091.4,"l":4085.4,"c":4089.0,"ma":4039.4},
{"i":389,"o":4088.9,"h":4094.9,"l":4087.4,"c":4091.9},
{"i":390,"o":4091.9,"h":4093.0,"l":4087.8,"c":4089.2,"ma":4047.0},
{"i":391,"o":4089.2,"h":4089.8,"l":4082.7,"c":4086.2},
{"i":392,"o":4086.0,"h":4087.6,"l":4077.9,"c":4081.4,"ma":4053.5},
{"i":393,"o":4081.4,"h":4082.2,"l":4071.9,"c":4077.9},
{"i":394,"o":4078.1,"h":4081.6,"l":4076.0,"c":4076.6,"ma":4057.8},
{"i":395,"o":4076.6,"h":4081.1,"l":4074.8,"c":4079.8,"ma":4059.4},
{"i":396,"o":4079.8,"h":4088.2,"l":4078.1,"c":4087.1},
{"i":397,"o":4087.1,"h":4093.0,"l":4085.4,"c":4092.5,"ma":4065.4}
]},
"encoding": {
  "x": {"field": "i", "type": "quantitative",
    "scale": {"domain": [0.026, 397.5], "nice": false, "zero": false},
    "axis": {
      "orient": "bottom", "title": null,
      "values": [6.5,14.5,22.5,29.5,37.5,45.5,52.5,60.5,68.5,75.5,83.5,91.5,98.5,106.5,114.5,121.5,129.5,137.5,144.5,152.5,160.5,167.5,175.5,183.5,190.5,198.5,206.5,213.5,221.5,229.5,236.5,244.5,252.5,259.5,267.5,275.5,282.5,290.5,294.5,301.5,309.5,313.5,320.5,328.5,336.5,343.5,351.5,359.5,366.5,374.5,382.5,389.5],
      "labelExpr": "{k6:'Nov 8',k14:'8:00',k22:'16:00',k29:'Nov 9',k37:'8:00',k45:'16:00',k52:'Nov 10',k60:'8:00',k68:'16:00',k75:'Nov 11',k83:'8:00',k91:'16:00',k98:'Nov 14',k106:'8:00',k114:'16:00',k121:'Nov 15',k129:'8:00',k137:'16:00',k144:'Nov 16',k152:'8:00',k160:'16:00',k167:'Nov 17',k175:'8:00',k183:'16:00',k190:'Nov 18',k198:'8:00',k206:'16:00',k213:'Nov 21',k221:'8:00',k229:'16:00',k236:'Nov 22',k244:'8:00',k252:'16:00',k259:'Nov 23',k267:'8:00',k275:'16:00',k282:'Nov 24',k290:'8:00',k294:'',k301:'Nov 25',k309:'8:00',k313:'',k320:'Nov 28',k328:'8:00',k336:'16:00',k343:'Nov 29',k351:'8:00',k359:'16:00',k366:'Nov 30',k374:'8:00',k382:'16:00',k389:'Dec 1'}['k'+(datum.value-0.5)]",
      "grid": true,
      "gridColor": {"condition": {"test": "indexof([22.5,45.5,68.5,91.5,114.5,137.5,160.5,183.5,206.5,229.5,252.5,275.5,294.5,313.5,336.5,359.5,382.5], datum.value) >= 0", "value": "#5c5c5c"}, "value": "#3a3a3a"},
      "gridDash": {"condition": {"test": "indexof([22.5,45.5,68.5,91.5,114.5,137.5,160.5,183.5,206.5,229.5,252.5,275.5,294.5,313.5,336.5,359.5,382.5], datum.value) >= 0", "value": [6, 3]}, "value": [2, 3]},
      "ticks": false, "domainColor": "#808080",
      "labelColor": "#ffffff", "labelFont": "DejaVu Sans",
      "labelFontSize": {"condition": {"test": "indexof([6.5,29.5,52.5,75.5,98.5,121.5,144.5,167.5,190.5,213.5,236.5,259.5,282.5,301.5,320.5,343.5,366.5,389.5], datum.value) >= 0", "value": 12}, "value": 11},
      "labelFontWeight": {"condition": {"test": "indexof([6.5,29.5,52.5,75.5,98.5,121.5,144.5,167.5,190.5,213.5,236.5,259.5,282.5,301.5,320.5,343.5,366.5,389.5], datum.value) >= 0", "value": "bold"}, "value": "normal"},
      "labelPadding": 4, "labelOverlap": false, "labelFlush": false, "labelBound": false
    }
  }
},
"layer": [
  {
    "mark": {"type": "rule", "color": "#ffffff", "strokeWidth": 1.2},
    "encoding": {
      "y": {"field": "l", "type": "quantitative",
        "scale": {"domain": [3730.6, 4115.9], "nice": false, "zero": false},
        "axis": {
          "title": null,
          "values": [3737.5,3743.75,3750,3756.25,3762.5,3768.75,3775,3781.25,3787.5,3793.75,3800,3806.25,3812.5,3818.75,3825,3831.25,3837.5,3843.75,3850,3856.25,3862.5,3868.75,3875,3881.25,3887.5,3893.75,3900,3906.25,3912.5,3918.75,3925,3931.25,3937.5,3943.75,3950,3956.25,3962.5,3968.75,3975,3981.25,3987.5,3993.75,4000,4006.25,4012.5,4018.75,4025,4031.25,4037.5,4043.75,4050,4056.25,4062.5,4068.75,4075,4081.25,4087.5,4093.75,4100,4106.25,4112.5],
          "gridColor": {"condition": {"test": "datum.value == 4081.25", "value": "#8c8c8c"}, "value": "#3a3a3a"}
        }
      },
      "y2": {"field": "h"}
    }
  },
  {
    "mark": {"type": "bar", "size": 3.6, "strokeWidth": 1},
    "encoding": {
      "y": {"field": "o", "type": "quantitative", "scale": {"domain": [3730.6, 4115.9], "nice": false, "zero": false},
        "axis": {
          "title": null,
          "values": [3737.5,3743.75,3750,3756.25,3762.5,3768.75,3775,3781.25,3787.5,3793.75,3800,3806.25,3812.5,3818.75,3825,3831.25,3837.5,3843.75,3850,3856.25,3862.5,3868.75,3875,3881.25,3887.5,3893.75,3900,3906.25,3912.5,3918.75,3925,3931.25,3937.5,3943.75,3950,3956.25,3962.5,3968.75,3975,3981.25,3987.5,3993.75,4000,4006.25,4012.5,4018.75,4025,4031.25,4037.5,4043.75,4050,4056.25,4062.5,4068.75,4075,4081.25,4087.5,4093.75,4100,4106.25,4112.5],
          "gridColor": {"condition": {"test": "datum.value == 4081.25", "value": "#8c8c8c"}, "value": "#3a3a3a"}
        }},
      "y2": {"field": "c"},
      "color": {"condition": [{"test": "datum.c > datum.o", "value": "#00a600"}, {"test": "datum.c < datum.o", "value": "#dc0000"}], "value": "#ffff00"},
      "stroke": {"condition": [{"test": "datum.c > datum.o", "value": "#00a600"}, {"test": "datum.c < datum.o", "value": "#dc0000"}], "value": "#ffff00"}
    }
  },
  {
    "transform": [{"filter": "isValid(datum.ma)"}],
    "mark": {"type": "line", "color": "#e6e600", "strokeWidth": 1.3},
    "encoding": {
      "y": {"field": "ma", "type": "quantitative", "scale": {"domain": [3730.6, 4115.9], "nice": false, "zero": false},
        "axis": {
          "title": null,
          "values": [3737.5,3743.75,3750,3756.25,3762.5,3768.75,3775,3781.25,3787.5,3793.75,3800,3806.25,3812.5,3818.75,3825,3831.25,3837.5,3843.75,3850,3856.25,3862.5,3868.75,3875,3881.25,3887.5,3893.75,3900,3906.25,3912.5,3918.75,3925,3931.25,3937.5,3943.75,3950,3956.25,3962.5,3968.75,3975,3981.25,3987.5,3993.75,4000,4006.25,4012.5,4018.75,4025,4031.25,4037.5,4043.75,4050,4056.25,4062.5,4068.75,4075,4081.25,4087.5,4093.75,4100,4106.25,4112.5],
          "gridColor": {"condition": {"test": "datum.value == 4081.25", "value": "#8c8c8c"}, "value": "#3a3a3a"}
        }}
    }
  },
  {
    "data": {"values": [
      {"line": "upper", "i": 382.4, "p": 4098.2},
      {"line": "upper", "i": 400.6, "p": 4093.5},
      {"line": "lower", "i": 384.3, "p": 4081.1},
      {"line": "lower", "i": 396.5, "p": 4067.0}
    ]},
    "mark": {"type": "line", "color": "#7030a0", "strokeWidth": 7, "strokeCap": "round", "clip": false},
    "encoding": {
      "y": {"field": "p", "type": "quantitative", "scale": {"domain": [3730.6, 4115.9], "nice": false, "zero": false},
        "axis": {
          "title": null,
          "values": [3737.5,3743.75,3750,3756.25,3762.5,3768.75,3775,3781.25,3787.5,3793.75,3800,3806.25,3812.5,3818.75,3825,3831.25,3837.5,3843.75,3850,3856.25,3862.5,3868.75,3875,3881.25,3887.5,3893.75,3900,3906.25,3912.5,3918.75,3925,3931.25,3937.5,3943.75,3950,3956.25,3962.5,3968.75,3975,3981.25,3987.5,3993.75,4000,4006.25,4012.5,4018.75,4025,4031.25,4037.5,4043.75,4050,4056.25,4062.5,4068.75,4075,4081.25,4087.5,4093.75,4100,4106.25,4112.5],
          "gridColor": {"condition": {"test": "datum.value == 4081.25", "value": "#8c8c8c"}, "value": "#3a3a3a"}
        }},
      "detail": {"field": "line"}
    }
  }
]
}
